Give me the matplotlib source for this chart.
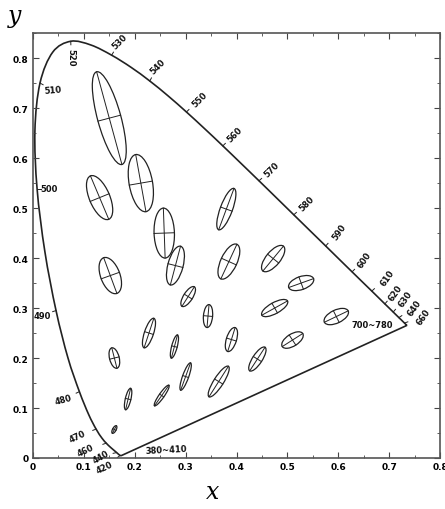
import matplotlib
matplotlib.use('Agg')
import matplotlib.pyplot as plt
import numpy as np
from matplotlib.patches import Ellipse, PathPatch
from matplotlib.path import Path
from matplotlib.ticker import MultipleLocator

# CIE 1931 spectral locus (wavelength nm, x, y)
wl = [380, 390, 400, 410, 420, 425, 430, 435, 440, 445, 450, 455, 460, 465,
      470, 475, 480, 485, 490, 495, 500, 505, 510, 515, 520, 525, 530, 535,
      540, 545, 550, 555, 560, 565, 570, 575, 580, 585, 590, 595, 600, 605,
      610, 615, 620, 625, 630, 635, 640, 645, 650, 660, 670, 680, 700]
lx = [0.1741, 0.1738, 0.1733, 0.1726, 0.1714, 0.1703, 0.1689, 0.1669, 0.1644,
      0.1611, 0.1566, 0.1510, 0.1440, 0.1355, 0.1241, 0.1096, 0.0913, 0.0687,
      0.0454, 0.0235, 0.0082, 0.0039, 0.0139, 0.0389, 0.0743, 0.1142, 0.1547,
      0.1929, 0.2296, 0.2658, 0.3016, 0.3373, 0.3731, 0.4087, 0.4441, 0.4788,
      0.5125, 0.5448, 0.5752, 0.6029, 0.6270, 0.6482, 0.6658, 0.6801, 0.6915,
      0.7006, 0.7079, 0.7140, 0.7190, 0.7230, 0.7260, 0.7300, 0.7320, 0.7334,
      0.7347]
ly = [0.0050, 0.0049, 0.0048, 0.0048, 0.0051, 0.0058, 0.0069, 0.0086, 0.0109,
      0.0138, 0.0177, 0.0227, 0.0297, 0.0399, 0.0578, 0.0868, 0.1327, 0.2007,
      0.2950, 0.4127, 0.5384, 0.6548, 0.7502, 0.8120, 0.8338, 0.8262, 0.8059,
      0.7816, 0.7543, 0.7243, 0.6923, 0.6589, 0.6245, 0.5896, 0.5547, 0.5202,
      0.4866, 0.4544, 0.4242, 0.3965, 0.3725, 0.3514, 0.3340, 0.3197, 0.3083,
      0.2993, 0.2920, 0.2859, 0.2809, 0.2770, 0.2740, 0.2700, 0.2680, 0.2666,
      0.2653]

# MacAdam ellipses: centre, semi-axes (x1e-3, drawn 10x), angle (deg)
ex = [0.160, 0.187, 0.253, 0.150, 0.131, 0.212, 0.258, 0.152, 0.280, 0.380,
      0.160, 0.228, 0.305, 0.385, 0.472, 0.527, 0.475, 0.510, 0.596, 0.344,
      0.390, 0.441, 0.278, 0.300, 0.365]
ey = [0.057, 0.118, 0.125, 0.680, 0.521, 0.550, 0.450, 0.365, 0.385, 0.498,
      0.200, 0.250, 0.323, 0.393, 0.399, 0.350, 0.300, 0.236, 0.283, 0.284,
      0.237, 0.198, 0.223, 0.163, 0.153]
ea = [0.85, 2.2, 2.5, 9.6, 4.7, 5.8, 5.0, 3.8, 4.0, 4.4, 2.1, 3.1, 2.3, 3.8,
      3.2, 2.6, 2.9, 2.4, 2.6, 2.3, 2.5, 2.8, 2.4, 2.9, 3.6]
eb = [0.35, 0.55, 0.5, 2.3, 2.0, 2.3, 2.0, 1.9, 1.5, 1.2, 0.95, 0.9, 0.9, 1.6,
      1.4, 1.3, 1.1, 1.2, 1.3, 0.9, 1.0, 0.95, 0.55, 0.6, 0.95]
eth = [62.5, 77, 55.5, 105, 112.5, 100, 92, 110, 75.5, 70, 104, 72, 58, 65.5,
       51, 20, 29.5, 33, 26, 85, 73, 57.5, 75.5, 70.5, 58]

# wavelength labels along the locus
lab_wl = [420, 440, 460, 470, 480, 490, 500, 510, 520, 530, 540, 550, 560,
          570, 580, 590, 600, 610, 620, 630, 640, 660]
lab_txt = [str(w) for w in lab_wl]

# label layout: offset from locus point (data units) and rotation
lab_off = {420: (-0.030, -0.023, 25), 440: (-0.030, -0.007, 30),
           460: (-0.040, -0.014, 25), 470: (-0.036, -0.014, 25),
           480: (-0.032, -0.015, 15), 490: (-0.027, -0.009, 0),
           500: (0.023, 0.0, 0), 510: (0.025, -0.014, 5),
           520: (0.001, -0.030, 270), 530: (0.016, 0.028, 45),
           540: (0.016, 0.030, 45), 550: (0.026, 0.026, 45),
           560: (0.024, 0.024, 45), 570: (0.026, 0.023, 45),
           580: (0.025, 0.023, 45), 590: (0.026, 0.030, 55),
           600: (0.025, 0.025, 55), 610: (0.030, 0.028, 55),
           620: (0.020, 0.024, 55), 630: (0.023, 0.028, 55),
           640: (0.031, 0.021, 55), 660: (0.038, 0.014, 55)}

fig = plt.figure(figsize=(4.45, 5.1), dpi=100)
ax = fig.add_axes([0.074, 0.1, 0.915, 0.833])

# locus drawn as a smooth curve through the table points (Catmull-Rom -> Bezier)
P = np.column_stack([lx, ly])
verts = [P[0]]
codes = [Path.MOVETO]
for i in range(len(P) - 1):
    p0 = P[max(i - 1, 0)]
    p1, p2 = P[i], P[i + 1]
    p3 = P[min(i + 2, len(P) - 1)]
    verts += [p1 + (p2 - p0) / 6, p2 - (p3 - p1) / 6, p2]
    codes += [Path.CURVE4] * 3
verts.append(P[0])
codes.append(Path.LINETO)
ax.add_patch(PathPatch(Path(verts, codes), fill=False, ec='#222222', lw=1.2))

# ellipses with their axes
for cx, cy, a, b, t in zip(ex, ey, ea, eb, eth):
    A = a * 0.01
    B = b * 0.01
    ax.add_patch(Ellipse((cx, cy), 2 * A, 2 * B, angle=t, fill=False,
                         ec='#222222', lw=0.9))
    r = np.deg2rad(t)
    ax.plot([cx - A * np.cos(r), cx + A * np.cos(r)],
            [cy - A * np.sin(r), cy + A * np.sin(r)], color='#222222', lw=0.7)
    ax.plot([cx + B * np.sin(r), cx - B * np.sin(r)],
            [cy - B * np.cos(r), cy + B * np.cos(r)], color='#222222', lw=0.7)

# wavelength ticks and labels
for w, txt in zip(lab_wl, lab_txt):
    i = wl.index(w)
    px, py = lx[i], ly[i]
    dx, dy, rot = lab_off[w]
    n = np.hypot(dx, dy)
    ax.plot([px, px + dx / n * 0.007], [py, py + dy / n * 0.007],
            color='#222222', lw=0.7)
    ax.text(px + dx, py + dy, txt, rotation=rot, ha='center', va='center',
            fontsize=6, fontweight='bold', color='#111111')

ax.text(0.262, 0.018, '380~410', ha='center', va='center', fontsize=6,
        fontweight='bold', rotation=3, color='#111111')
ax.text(0.666, 0.268, '700~780', ha='center', va='center', fontsize=6,
        fontweight='bold', color='#111111')

ax.set_xlim(0, 0.8)
ax.set_ylim(0, 0.85)
ax.xaxis.set_minor_locator(MultipleLocator(0.05))
ax.yaxis.set_minor_locator(MultipleLocator(0.05))
ax.tick_params(which='both', direction='in', top=True, right=True,
               color='#444444')
ax.tick_params(which='major', length=4, width=0.8, labelsize=6.5, pad=3)
ax.tick_params(which='minor', length=2, width=0.6)
ax.set_xticks(np.arange(0, 0.81, 0.1))
ax.set_xticklabels(['0', '0.1', '0.2', '0.3', '0.4', '0.5', '0.6', '0.7', '0.8'],
                   fontweight='bold')
ax.set_yticks(np.arange(0, 0.81, 0.1))
ax.set_yticklabels(['0', '0.1', '0.2', '0.3', '0.4', '0.5', '0.6', '0.7', '0.8'],
                   fontweight='bold')
for s in ax.spines.values():
    s.set_color('#555555')
    s.set_linewidth(1.2)

fig.text(15 / 445, 1 - 17 / 510, 'y', fontsize=17, style='italic',
         family='DejaVu Serif', ha='center', va='center')
fig.text(213 / 445, 1 - 493 / 510, 'x', fontsize=17, style='italic',
         family='DejaVu Serif', ha='center', va='center')

fig.savefig('out.png', dpi=100)
